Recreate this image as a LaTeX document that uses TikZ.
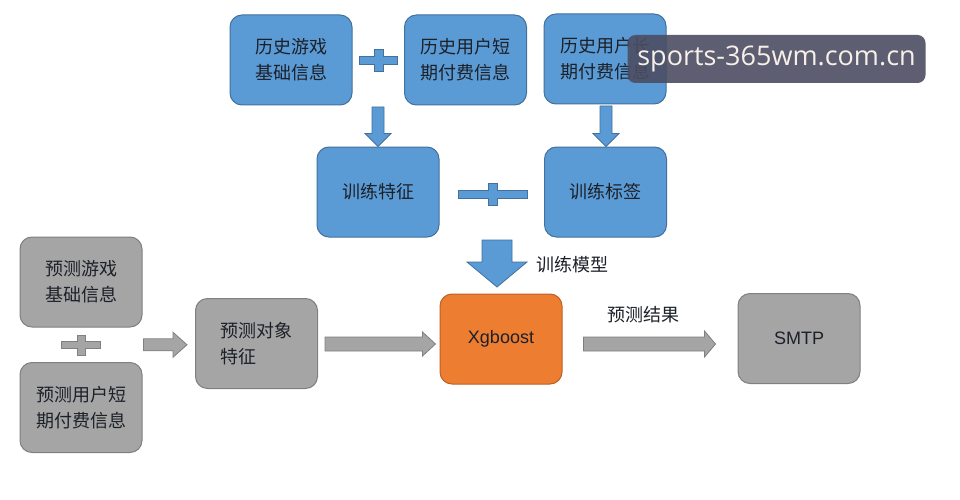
\documentclass[tikz,border=0pt]{standalone}
\usepackage{fontspec}
\setmainfont{Liberation Sans}
\newfontfamily\cjk{Noto Sans CJK SC}
\newfontfamily\wmfont{Open Sans}
\usetikzlibrary{calc}
\definecolor{bfill}{RGB}{91,155,213}
\definecolor{bdraw}{RGB}{65,113,156}
\definecolor{gfill}{RGB}{165,165,165}
\definecolor{gdraw}{RGB}{128,128,128}
\definecolor{ofill}{RGB}{237,125,49}
\definecolor{odraw}{RGB}{190,95,35}
\definecolor{wmback}{RGB}{76,77,98}
\definecolor{wmtext}{RGB}{248,240,232}
\definecolor{txt}{RGB}{28,32,40}
\newcommand\harr[6][garr]{\draw[#1] let \p1=(#2), \p2=(#3) in
  (\x1,\y1+#4) -- (\x2-#6,\y1+#4) -- (\x2-#6,\y1+#5) -- (\x2,\y1) --
  (\x2-#6,\y1-#5) -- (\x2-#6,\y1-#4) -- (\x1,\y1-#4) -- cycle;}
\newcommand\varr[6][barr]{\draw[#1] let \p1=(#2), \p2=(#3) in
  (\x1+#4,\y1) -- (\x1+#4,\y2+#6) -- (\x1+#5,\y2+#6) -- (\x1,\y2) --
  (\x1-#5,\y2+#6) -- (\x1-#4,\y2+#6) -- (\x1-#4,\y1) -- cycle;}
\tikzset{
  boxbase/.style={rounded corners=12pt, minimum width=122pt, minimum height=90pt,
    line width=1pt, align=center, text=txt, font=\cjk\fontsize{18}{26}\selectfont},
  bbox/.style={boxbase, fill=bfill, draw=bdraw},
  gbox/.style={boxbase, fill=gfill, draw=gdraw},
  obox/.style={boxbase, fill=ofill, draw=odraw},
  latin/.style={font=\fontsize{18}{20}\selectfont},
  garr/.style={fill=gfill, draw=gdraw, line width=0.8pt},
  barr/.style={fill=bfill, draw=bdraw, line width=0.8pt},
  lbl/.style={text=txt, font=\cjk\fontsize{18}{20}\selectfont},
  pics/crosssign/.style n args={4}{code={
    \draw[barr] (-#1,-#2) -- (-#3,-#2) -- (-#3,-#4) -- (#3,-#4) -- (#3,-#2) -- (#1,-#2)
      -- (#1,#2) -- (#3,#2) -- (#3,#4) -- (-#3,#4) -- (-#3,#2) -- (-#1,#2) -- cycle;}},
  gcross/.style={barr/.style={fill=gfill, draw=gdraw, line width=0.8pt}}
}
\begin{document}
\begin{tikzpicture}[x=1pt,y=-1pt]
\useasboundingbox[fill=white] (0,0) rectangle (960,500);

% blue top boxes
\node[bbox] (A) at (291,60) {历史游戏\\基础信息};
\node[bbox] (B) at (465.5,60) {历史用户短\\期付费信息};
\node[bbox] (C) at (605,59) {历史用户长\\期付费信息};
\node[bbox] (D) at (378,192) {训练特征};
\node[bbox] (E) at (605.5,192) {训练标签};

% bottom row
\node[obox, latin] (F) at (501,339) {Xgboost};
\node[gbox, align=left] (G) at (256.5,343.5) {预测对象\\特征};
\node[gbox] (H) at (81,282) {预测游戏\\基础信息};
\node[gbox] (I) at (81,407.5) {预测用户短\\期付费信息};
\node[gbox, latin] (S) at (799,338.5) {SMTP};

% plus signs
\pic (p1) at (378.5,60.5) {crosssign={19}{4}{4.5}{11}};
\pic (p2) at (492.5,194) {crosssign={34.5}{4}{4.5}{11}};
\pic[gcross] (p3) at (81,345) {crosssign={19.5}{3.5}{4}{10}};

% down arrows
\coordinate (a1s) at (378,107);
\coordinate (a2s) at (606,106);
\coordinate (bigs) at (497,240);
\coordinate (bige) at (497,287);
\varr{a1s}{D.north}{6pt}{13pt}{13pt}
\varr{a2s}{$(E.north)+(0.5,0)$}{6pt}{13pt}{13pt}
\varr{bigs}{bige}{15pt}{30pt}{25pt}
\node[lbl] (lt) at (572,265) {训练模型};

% horizontal arrows
\coordinate (hgs) at ($(H.east)!0.5!(I.east)+(1,0)$);
\coordinate (hge) at ($(G.west)+(-8,0)$);
\coordinate (gfs) at ($(G.east)+(7,0.5)$);
\coordinate (gfe) at ($(F.west)+(-4,0)$);
\coordinate (fss) at ($(F.east)+(21,5)$);
\coordinate (fse) at ($(S.west)+(-22,0)$);
\harr{hgs}{hge}{6pt}{12.5pt}{14pt}
\harr{gfs}{gfe}{7pt}{12pt}{13pt}
\harr{fss}{fse}{7pt}{13pt}{11pt}
\node[lbl] (lp) at (643,315) {预测结果};

% watermark
\node[fill=wmback, fill opacity=0.9, text opacity=1, text=wmtext, rounded corners=8pt,
  minimum width=298pt, minimum height=48pt, font=\wmfont\fontsize{27}{30}\selectfont]
  (wm) at (776.5,59) {sports-365wm.com.cn};
\end{tikzpicture}
\end{document}
